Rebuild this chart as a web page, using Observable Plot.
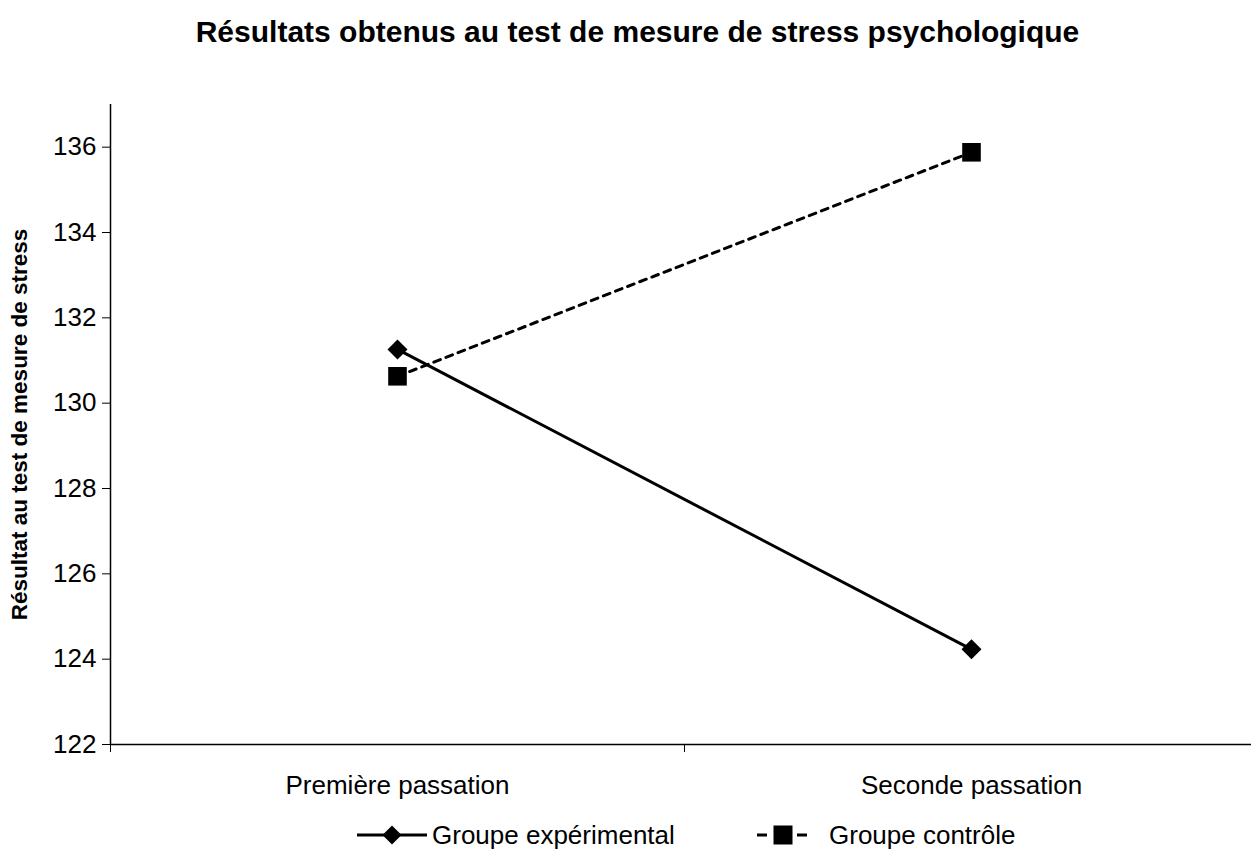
<!DOCTYPE html>
<html><head><meta charset="utf-8">
<script src="https://cdn.jsdelivr.net/npm/d3@7"></script>
<script src="https://cdn.jsdelivr.net/npm/@observablehq/plot@0.6"></script>
<style>
body{margin:0;background:#fff;font-family:"Liberation Sans",Arial,sans-serif;}
#wrap{position:relative;width:1251px;height:854px;overflow:hidden;}
#title{position:absolute;left:0;top:14px;width:1251px;text-align:center;font-weight:bold;font-size:30px;line-height:36px;padding-left:24px;box-sizing:border-box}
#chart{position:absolute;left:0;top:80px;}
#legend{position:absolute;left:0;top:804px;}
</style></head><body>
<div id="wrap"><div id="title">Résultats obtenus au test de mesure de stress psychologique</div><div id="chart"></div><div id="legend"></div></div>
<script>
const passations = ["Première passation", "Seconde passation"];
const groupeExperimental = [131.26, 124.23];
const groupeControle = [130.63, 135.88];
const yTicks = [122, 124, 126, 128, 130, 132, 134, 136];
const seriesNames = ["Groupe expérimental", "Groupe contrôle"];
const yLabel = "Résultat au test de mesure de stress";

const expData = passations.map((p, i) => ({i, p, v: groupeExperimental[i]}));
const ctlData = passations.map((p, i) => ({i, p, v: groupeControle[i]}));

const FONT = '"Liberation Sans", Arial, sans-serif';

const plot = Plot.plot({
  width: 1251, height: 724,
  marginLeft: 110, marginRight: 0, marginTop: 24, marginBottom: 60,
  style: {fontFamily: FONT, fontSize: "26px", color: "#000", background: "#fff", overflow: "visible"},
  x: {domain: [-0.5, 1.5], range: [110, 1258]},
  y: {domain: [122, 137]},
  marks: [
    Plot.ruleY([122], {stroke: "#000", strokeWidth: 1.5}),
    Plot.ruleX([-0.5], {stroke: "#000", strokeWidth: 1.5}),
    Plot.axisY(yTicks, {tickSize: 8, tickPadding: 6, label: yLabel, labelAnchor: "center", labelOffset: 99, fontSize: "26px"}),
    Plot.axisX([0, 1], {tickSize: 0, tickPadding: 31, tickFormat: i => passations[i], label: null, fontSize: "26px"}),
    Plot.axisX([-0.5, 0.5], {tickSize: 8, tickFormat: () => "", label: null}),
    Plot.line(expData, {x: "i", y: "v", stroke: "#000", strokeWidth: 3}),
    Plot.line(ctlData, {x: "i", y: "v", stroke: "#000", strokeWidth: 3, strokeDasharray: "7,6"}),
    Plot.dot(expData, {x: "i", y: "v", symbol: "diamond2", r: 9, fill: "#000", stroke: "none"}),
    Plot.dot(ctlData, {x: "i", y: "v", symbol: "square", r: 10.5, fill: "#000", stroke: "none"})
  ]
});
document.getElementById("chart").appendChild(plot);
d3.select(plot).selectAll('g[aria-label="y-axis label"] text')
  .attr("font-weight", "bold").attr("font-size", "22.5px").text(yLabel);

// Legend
const leg = d3.select("#legend").append("svg").attr("width", 1251).attr("height", 50)
  .attr("font-family", FONT);
const cy = 31;
leg.append("line").attr("x1", 357).attr("x2", 427).attr("y1", cy).attr("y2", cy).attr("stroke", "#000").attr("stroke-width", 3);
leg.append("path").attr("d", `M392,${cy-9.5}L401.5,${cy}L392,${cy+9.5}L382.5,${cy}Z`).attr("fill", "#000");
leg.append("text").attr("x", 432).attr("y", cy).attr("dy", "0.35em").attr("font-size", 26).text(seriesNames[0]);
leg.append("line").attr("x1", 757).attr("x2", 767).attr("y1", cy).attr("y2", cy).attr("stroke", "#000").attr("stroke-width", 3);
leg.append("line").attr("x1", 797).attr("x2", 807).attr("y1", cy).attr("y2", cy).attr("stroke", "#000").attr("stroke-width", 3);
leg.append("rect").attr("x", 773.5).attr("y", cy - 9.5).attr("width", 19).attr("height", 19).attr("fill", "#000");
leg.append("text").attr("x", 829).attr("y", cy).attr("dy", "0.35em").attr("font-size", 26).text(seriesNames[1]);
</script>
</body></html>
